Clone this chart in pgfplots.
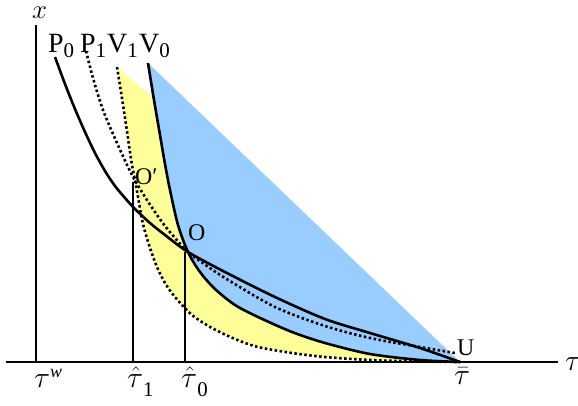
\RequirePackage{fix-cm}
\documentclass[border=0pt]{standalone}
\usepackage{pgfplots}
\pgfplotsset{compat=1.18}
\usepackage{pgfplotstable}
\usepackage{fontspec}
\setmainfont{Liberation Serif}
\definecolor{areaY}{RGB}{255,255,153}
\definecolor{areaB}{RGB}{153,204,255}
\newcommand\fs[1]{\fontsize{#1}{#1}\selectfont}
\newcommand\sub[1]{\raisebox{-5bp}{\fs{21}#1}}

% curve P0 (solid)
\pgfplotstableread{
t x
55 305
65 278
75 253
85 230
95 209
105 191
115 176
125 164
135 153
150 139
165 127
188 110
225 90
275 65
325 43
370 29
420 14
460 0
}\PzeroTab

% curve P1 (dotted)
\pgfplotstableread{
t x
86 311
93 284
103 252
117 219
132 187
147 162
162 140
175 124
188 110
200 101
225 84
275 55
325 36
370 24
420 15
455 9
}\PoneTab

% curve V1 (dotted)
\pgfplotstableread{
t x
117 295
121 270
125 244
129 217
132 197
135 182
138 165
143 138
150 114
157 95
165 79
175 65
192 47
212 34
235 23
258 15
292 9
325 5
370 2
420 0.5
460 0
}\VoneTab

% curve V0 (solid)
\pgfplotstableread{
t x
148 299
154 262
160 227
165 198
170 172
178 137
188 110
200 90
215 73
235 57
258 45
292 30
325 19
370 8
420 2
460 0
}\VzeroTab

\begin{document}
\begin{tikzpicture}
\begin{axis}[x=1bp, y=1bp, xmin=0, xmax=578, ymin=-43, ymax=362,
  hide axis, clip=false]
\coordinate (bl) at (axis cs:0,-43);
\coordinate (tr) at (axis cs:578,362);

% shaded regions: curve closed by a straight chord back to its top
\addplot[fill=areaY, draw=none, smooth] table[x=t,y=x] {\VoneTab};
\addplot[fill=areaB, draw=none, smooth] table[x=t,y=x] {\VzeroTab};

% axes
\addplot[black, line width=2bp] coordinates {(6,0) (558,0)};
\addplot[black, line width=2bp] coordinates {(36,0) (36,337)};
% guide lines at the intersections
\addplot[black, line width=1.8bp] coordinates {(133,0) (133,180)};
\addplot[black, line width=1.8bp] coordinates {(185,0) (185,110)};

% curves
\addplot[black, line width=2.6bp, smooth] table[x=t,y=x] {\PzeroTab};
\addplot[black, line width=2.6bp, smooth] table[x=t,y=x] {\VzeroTab};
\addplot[black, line width=2.6bp, dash pattern=on 2.5bp off 2.5bp, smooth] table[x=t,y=x] {\PoneTab};
\addplot[black, line width=2.6bp, dash pattern=on 2.5bp off 2.5bp, smooth] table[x=t,y=x] {\VoneTab};

% curve names
\node[anchor=base west, inner sep=0] at (axis cs:48,310) {\fs{28}P\sub{0}};
\node[anchor=base west, inner sep=0] at (axis cs:80,310) {\fs{28}P\sub{1}};
\node[anchor=base west, inner sep=0] at (axis cs:107,310) {\fs{28}V\sub{1}};
\node[anchor=base west, inner sep=0] at (axis cs:139,310) {\fs{28}V\sub{0}};

% points
\node[anchor=base west, inner sep=0] at (axis cs:135,178) {\fs{24}O′};
\node[anchor=base west, inner sep=0] at (axis cs:188,122) {\fs{24}O};
\node[anchor=base west, inner sep=0] at (axis cs:457,7) {\fs{24}U};

% axis names
\node[anchor=base west, inner sep=0] at (axis cs:32,344) {\fs{27}$x$};
\node[anchor=base west, inner sep=0] at (axis cs:565,-8) {\fs{30}$\tau$};

% tick labels
\node[anchor=base west, inner sep=0] at (axis cs:34,-25)
  {\fs{30}$\tau$\raisebox{10bp}{\fs{18}\itshape w}};
\node[anchor=base west, inner sep=0] at (axis cs:127,-25)
  {\fs{30}$\hat{\tau}$\raisebox{-9bp}{\fs{21}1}};
\node[anchor=base west, inner sep=0] at (axis cs:181,-25)
  {\fs{30}$\hat{\tau}$\raisebox{-9bp}{\fs{21}0}};
\node[anchor=base west, inner sep=0] at (axis cs:454,-22)
  {\fs{30}$\bar{\tau}$};
\end{axis}
\pgfresetboundingbox
\path (bl) rectangle (tr);
\end{tikzpicture}
\end{document}
